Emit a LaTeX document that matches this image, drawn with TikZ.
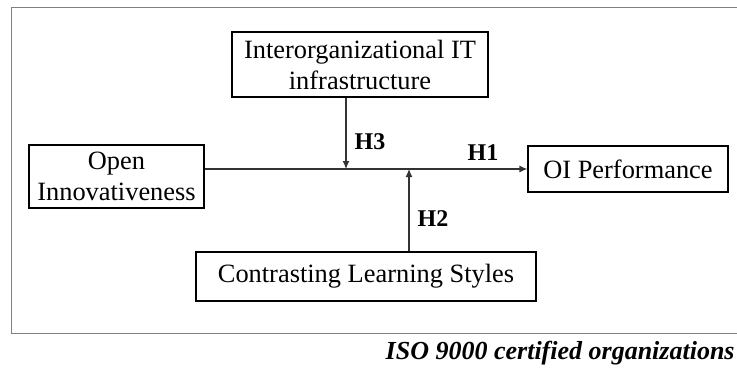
\documentclass[tikz,border=0pt]{standalone}
\usepackage{fontspec}
\setmainfont{Liberation Serif}
\usetikzlibrary{positioning, arrows.meta}
\tikzset{
>={Latex[length=4pt,width=3.5pt]}, % small filled arrow heads
x=0.5pt, y=-0.5pt, % one unit is one pixel of the reference
box/.style={draw, line width=0.6pt, inner sep=0pt, align=center, font=\fontsize{13.2}{15.5}\selectfont}, % the construct boxes
hyp/.style={font=\fontsize{12}{14}\selectfont\bfseries}, % hypothesis labels
link/.style={->, line width=0.6pt, draw=black!80}, % the relations
}

\begin{document}
\begin{tikzpicture}
      \useasboundingbox (0,0) rectangle (737,369);
      \draw[gray, line width=0.5pt] (745,7.5) -- (11,7.5) -- (11,333) -- (745,333);
      \node[box, minimum width=87.5pt, minimum height=31.5pt] (open) at (116.5,176.5) {Open\\Innovativeness};
      \node[box, minimum width=128pt, minimum height=32.5pt] (it) at (360,64.5) {Interorganizational IT\\infrastructure};
      \node[box, minimum width=100pt, minimum height=23pt] (oi) at (628,169) {OI Performance};
      \node[box, minimum width=170pt, minimum height=24.5pt] (cls) at (366,276.5) {Contrasting Learning Styles};
      \coordinate (m3) at (346,169);
      \coordinate (m2) at (409,169);
      \draw[link] (open.east |- oi.west) -- (oi.west);
      \draw[link] (m3 |- it.south) -- (m3);
      \draw[link] (m2 |- cls.north) -- (m2);
      \node[hyp] (h1) at (483,153) {H1};
      \node[hyp] (h2) at (433,219) {H2};
      \node[hyp] (h3) at (370,142) {H3};
      \node[anchor=base east, inner sep=0pt, font=\fontsize{13}{16}\selectfont\bfseries\itshape] (iso) at (735,359) {ISO 9000 certified organizations};
    \end{tikzpicture}
\end{document}
